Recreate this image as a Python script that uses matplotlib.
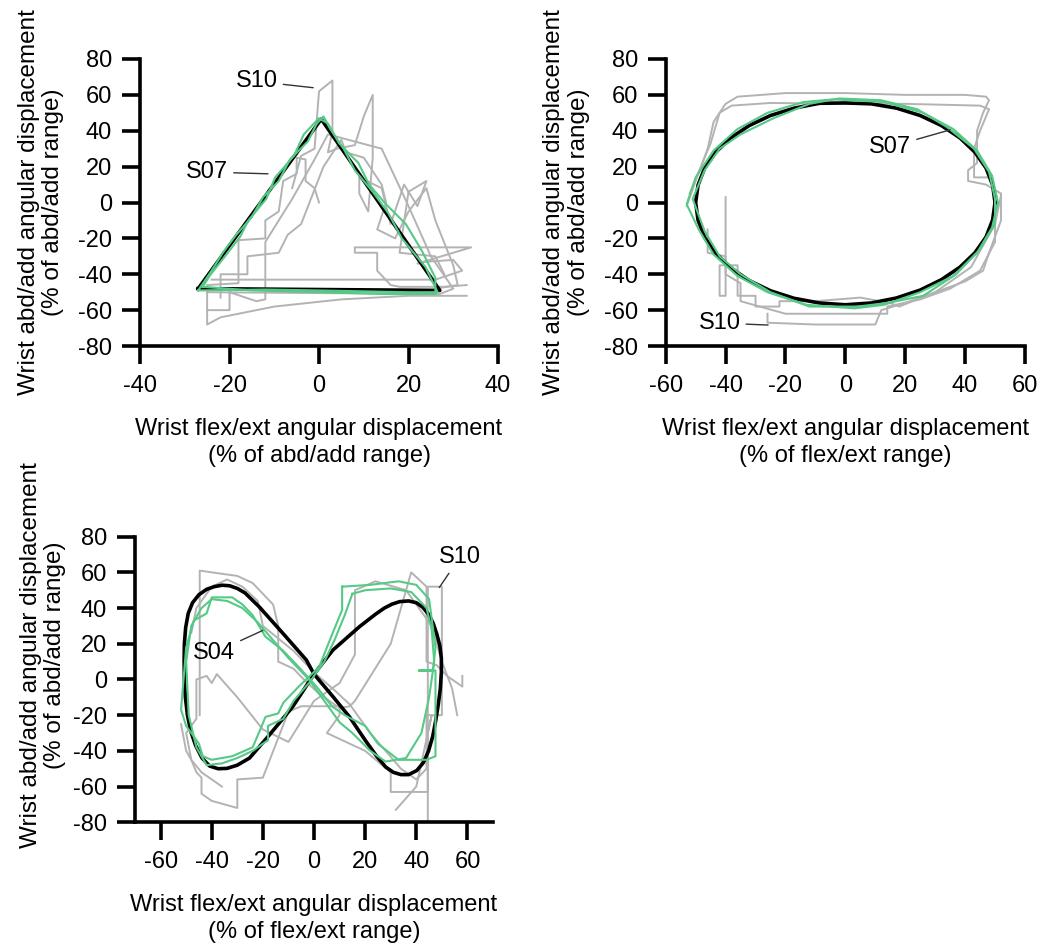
import matplotlib
matplotlib.use("Agg")
import matplotlib.pyplot as plt

plt.rcParams["font.family"] = ["Liberation Sans", "DejaVu Sans"]
plt.rcParams["axes.unicode_minus"] = False

BLACK = "#000000"
GREEN = "#55c985"
GRAY = "#b3b3b3"

# ---- triangle task: target, S07 (green) and S10 (gray) ----
tri_target_x = [-27, 0.5, 27, -27]
tri_target_y = [-48, 46.5, -49, -48]

tri_green = [
    ([-27, -24, -21.5, -18.5, -15, -12.5, -9, -6.5, -2.5, -0.5, 1, 2.5, 5.5, 8, 12, 15.5, 18.5, 23.8, 26.5, 20, 10, 0, -12, -27],
     [-49, -38, -28, -18, -8, 3, 12, 24, 34, 44, 48, 41, 30, 18, 6, -6, -20, -36, -50, -50, -49.5, -49, -48.5, -49]),
    ([-26, -24.2, -21, -17.6, -15.8, -11.8, -9.8, -5.6, -3.4, 0, 2, 4.5, 8.8, 11.2, 14.6, 19.4, 23, 26, 26, 15, 0, -15, -26],
     [-47, -40, -30, -19, -10, 2, 14, 26, 38, 47, 44, 33, 22, 10, 0, -12, -27, -42, -51, -51, -50, -49, -47]),
]

tri_gray = [
    ([0, -1, -3, -3, -5, -5, -8, -9, -12, -12, -18, -18, -25, -25, -22, -10, 5, 20, 33],
     [0, 8, 12, 24, 25, 16, 12, -5, -10, -20, -21, -45, -46, -68, -64, -58, -54, -52, -52]),
    ([-6, -4, -1, 0, 3, 3, 2, 4, 8, 10, 12, 12, 11, 9, 9, 14, 16, 19, 22, 24, 20, 18, 26, 28],
     [8, 26, 30, 62, 68, 40, 28, 30, 32, 48, 60, 25, -5, 5, 14, 8, -12, 10, -2, 12, 6, -28, -30, -40]),
    ([-24, 26, 32, 30, 24, 22, 34, 8, 8, 13, 13, 16, 18, 28, 33],
     [-43, -43, -38, -32, -33, -34, -25, -25, -28, -28, -38, -46, -47, -47, -46]),
    ([-25, -20, -20, -14, -12, -12, -6, -1, 2, 8, 14, 20, 25, 30, 27, -25],
     [-60, -60, -50, -55, -54, -22, 2, 24, 38, 34, 30, -2, -30, -48, -51, -50]),
    ([-22, -22, -16, -16, -9, -7, -4, 1, 5, 6, 10, 14, 15, 13, 17, 20, 24, 26, 30, 31, 26],
     [-53, -40, -40, -30, -28, -18, -12, 20, 35, 28, 25, 10, 0, -15, -20, -5, 8, -10, -35, -46, -48]),
]

# ---- ellipse task: target, S07 (green) and S10 (gray) ----
ell_target_x = [50, 49.2, 47.0, 43.3, 38.3, 32.1, 25, 17.1, 8.7, 0, -8.7, -17.1, -25, -32.1, -38.3,
                -43.3, -47, -49.2, -50, -49.2, -47, -43.3, -38.3, -32.1, -25, -17.1, -8.7, 0,
                8.7, 17.1, 25, 32.1, 38.3, 43.3, 47, 49.2, 50]
ell_target_y = [0, 9.7, 19.2, 28, 36, 42.9, 48.5, 52.6, 55.0, 55.5, 55.3, 52.6, 48.5, 42.9, 36,
                28, 19.2, 9.7, 0, -9.8, -19.4, -28.3, -36.4, -43.5, -49.2, -53.4, -56, -57,
                -56, -53.2, -48.8, -43, -36, -28, -19.2, -9.7, 0]

ell_green = [
    ([51, 49, 44, 36, 26, 13, -4, -14, -26, -36, -44, -50, -53, -49, -44, -36, -26, -13, 3, 13, 25, 36, 44, 49, 51],
     [0, 15, 29, 41, 50, 56, 57.5, 56, 50, 41, 29, 14, -1, -15, -29, -41, -50, -57, -59, -57, -50, -41, -28, -14, 0]),
    ([50, 48, 43, 34, 24, 12, -2, -12, -24, -35, -42, -47, -51, -47, -42, -35, -25, -12, 4, 14, 26, 37, 45, 50, 50],
     [2, 17, 30, 42, 52, 57, 58, 55, 47, 38, 30, 18, 2, -16, -30, -40, -50, -58, -58, -56, -52, -40, -26, -12, 2]),
]

ell_gray = [
    ([-53, -50, -46, -44, -40, -36, -20, 0, 20, 40, 47, 48, 46, 44, 44, 41, 41, 47, 52, 52, 48, 46, 40, 30, 20, 12, 10, -10, -26, -26],
     [-2, 12, 30, 45, 55, 59, 61, 61, 60, 60, 59, 57, 50, 40, 22, 18, 12, 10, 5, -10, -28, -38, -44, -50, -56, -60, -68, -68, -67, -62]),
    ([-52, -45, -42, -38, -25, 0, 20, 45, 48, 45, 43, 43, 49, 50, 50, 45, 35, 25, 14, 14, -20, -35, -35, -40, -40, -46, -46],
     [5, 33, 50, 54, 55.5, 55, 55, 54, 52, 40, 30, 14, 14, 0, -22, -38, -48, -54, -58, -62, -62, -55, -45, -40, -30, -28, -15]),
    ([-40, -40, -42, -42, -36, -36, -30, -30, -22, -22, -10, 5, 15, 18, 30, 42, 50, 52],
     [3, -52, -52, -35, -35, -52, -52, -58, -58, -55, -55, -53, -56, -58, -50, -36, -12, 4]),
]

# ---- figure-eight task: target, S04 (green) and S10 (gray) ----
fig8_target_x = [0, 7.4, 17.8, 24, 27.5, 30.5, 33.5, 37, 40, 42.5, 44.8, 46.6, 48, 49.2, 49.8, 49.8, 49.4, 48.6,
                 47.6, 46.4, 44.8, 42.8, 40.2, 37, 34, 31, 28, 24.5, 20, 13.9, 7.4, 0,
                 -3, -12.2, -21.3, -27, -30, -33, -36, -39, -42, -45, -47.5, -49.2, -50.2, -50.7,
                 -50.8, -50.7, -50.3, -49.5, -48.2, -46.3, -43.8, -40.8, -37.5, -34, -30, -25.2,
                 -17.4, -8.3, 0]
fig8_target_y = [3, 16.5, 29.6, 36.5, 40, 42.2, 43.6, 44, 43, 40.5, 36.5, 31.5, 25.5, 19, 12, 4, -5, -14,
                 -23, -32, -40, -46.5, -51, -53.3, -53.3, -52, -49, -43, -34, -21, -9.6, 3,
                 10.9, 25.9, 40.5, 48.5, 51, 52.5, 52.8, 52, 50.5, 47.5, 43, 37, 29, 20,
                 10, 0, -10, -20, -29, -37, -44, -48.5, -50, -49.8, -48, -44,
                 -31, -15.2, 3]

fig8_green = [
    ([11, 22, 33, 40, 45, 47.5, 46.5, 41, 47.5, 47.5, 44, 33, 25, 20, 12, 7, 1, -6, -12, -19, -24, -28, -32, -40, -42, -47,
      -50, -52, -50, -45, -43.5, -40, -32, -24, -21, -19, -14, -12, -6, 2, 7, 11, 11],
     [52, 53, 55, 53, 45, 18, 5, 5, 5, -43, -45, -45, -36, -26, -20, -15, -4, 7, 16, 24, 36, 42, 46, 46, 37, 33,
      18, -17, -26, -36, -43, -45, -43, -38, -28, -21, -19, -13, -4, 7, 25, 39, 52]),
    ([15, 20, 30, 38, 44, 46, 47, 45, 42, 36, 28, 22, 15, 10, 4, -2, -10, -16, -22, -28, -34, -40, -44, -48, -50, -49,
      -46, -42, -36, -30, -24, -18, -18, -12, -8, -2, 4, 8, 12, 15],
     [48, 50, 51, 49, 40, 28, 10, -10, -30, -44, -46, -40, -30, -24, -12, 0, 12, 22, 32, 40, 44, 45, 40, 30, 10, -20,
      -38, -48, -47, -44, -40, -34, -26, -22, -12, -2, 10, 22, 36, 48]),
]

fig8_gray = [
    ([-44.7, -44.7, -40, -30, -24, -20, -16, -14, -14, -8, -4, 2, 8, 10, 14, 16, 30, 38, 44, 44, 48, 52, 58, 58],
     [-20, 61, 60, 58, 54, 48, 42, 30, 10, 6, 0, -8, -14, -16, -15, -12, 20, 60, 52, 10, 8, 2, -4, 2]),
    ([-52, -50, -48, -46, -44, -44, -40, -30, -30, -20, -10, -5, 0, 10, 10, 5, 20, 30, 30, 44.5, 44.5, 46, 40, 32],
     [-25, -40, -45, -52, -55, -64, -68, -72, -56, -55, -18, -15, -15, -15, -20, -30, -40, -52, -63, -63, -30, -20, -60, -73]),
    ([-36, -40, -44, -48, -50, -46, -46, -42, -40, -38, -30, -20, -10, 0, 10, 16, 16, 24, 36, 46, 50, 54, 56],
     [-60, -56, -52, -45, -30, -22, 0, 2, -2, 3, -10, -28, -35, -12, -2, 14, 50, 55, 50, 30, 10, -5, -20]),
    ([-48, -46, -40, -34, -28, -22, -20, -8, 0, 8, 14, 22, 28, 34, 40, 44, 44, 50, 50, 44.5, 44.5],
     [26, 40, 52, 56, 52, 44, 30, 16, 4, -6, -14, -30, -40, -50, -56, -50, -20, -20, 52, 52, -80]),
]

Y_LABEL = "Wrist abd/add angular displacement\n(% of abd/add range)"


def style_axes(ax, xlim, xticks, xlabel, ypad):
    ax.set_xlim(*xlim)
    ax.set_ylim(-80, 80)
    ax.set_xticks(xticks)
    ax.set_yticks(range(-80, 81, 20))
    for side in ("top", "right"):
        ax.spines[side].set_visible(False)
    for side in ("left", "bottom"):
        ax.spines[side].set_linewidth(2.6)
    ax.tick_params(width=2.6, length=13, labelsize=17)
    ax.tick_params(axis="x", pad=8)
    ax.tick_params(axis="y", pad=7)
    ax.set_ylabel(Y_LABEL, fontsize=17.5, labelpad=ypad, linespacing=1.15)
    ax.set_xlabel(xlabel, fontsize=17, labelpad=15, linespacing=1.3)
    ax.patch.set_alpha(0)


def draw_task(ax, gray, green, tx, ty):
    for gx, gy in gray:
        ax.plot(gx, gy, color=GRAY, lw=1.4, zorder=1)
    ax.plot(tx, ty, color=BLACK, lw=2.6, zorder=2, solid_joinstyle="round")
    for gx, gy in green:
        ax.plot(gx, gy, color=GREEN, lw=1.5, zorder=3)


def label(ax, text, xy, xytext):
    ax.annotate(text, xy=xy, xytext=xytext, fontsize=17, ha="center", va="center",
                arrowprops=dict(arrowstyle="-", color="#333333", lw=1.0, shrinkA=2, shrinkB=0))


fig = plt.figure(figsize=(10.41, 9.47), dpi=100)

ax1 = fig.add_axes([0.1345, 0.6346, 0.3439, 0.3031])
draw_task(ax1, tri_gray, tri_green, tri_target_x, tri_target_y)
style_axes(ax1, (-40, 40), range(-40, 41, 20),
           "Wrist flex/ext angular displacement\n(% of abd/add range)", 10)
label(ax1, "S10", (-1.3, 64), (-13.9, 67.5))
label(ax1, "S07", (-11.4, 16), (-25, 17))

ax2 = fig.add_axes([0.6395, 0.6346, 0.3451, 0.3031])
draw_task(ax2, ell_gray, ell_green, ell_target_x, ell_target_y)
style_axes(ax2, (-60, 60), range(-60, 61, 20),
           "Wrist flex/ext angular displacement\n(% of flex/ext range)", 10)
label(ax2, "S07", (35, 40.5), (15, 31))
label(ax2, "S10", (-25.8, -68.3), (-42, -67.2))

ax3 = fig.add_axes([0.1297, 0.1317, 0.3439, 0.3016])
draw_task(ax3, fig8_gray, fig8_green, fig8_target_x, fig8_target_y)
style_axes(ax3, (-70, 70), range(-60, 61, 20),
           "Wrist flex/ext angular displacement\n(% of flex/ext range)", 5)
ax3.yaxis.label.set_y(0.586)
label(ax3, "S10", (49, 51.5), (57, 68.5))
label(ax3, "S04", (-20, 27.5), (-39, 15))

fig.savefig("out.png", dpi=100)
